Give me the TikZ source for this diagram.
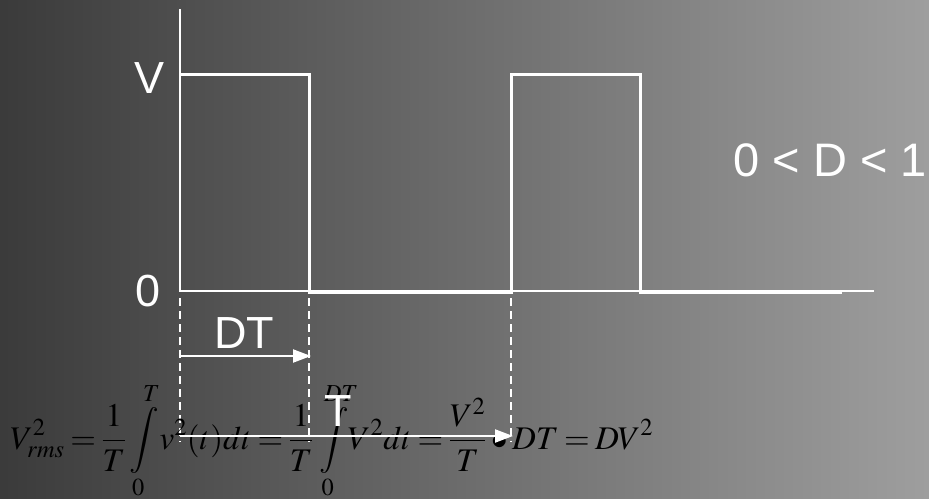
\documentclass[tikz,border=0pt]{standalone}
\usepackage{amsmath}
\usepackage{mathptmx}
\usepackage{fontspec}
\setmainfont{Liberation Sans}
\usetikzlibrary{arrows.meta}

\begin{document}
\begin{tikzpicture}[x=1pt, y=-1pt,
        axis_line/.style={draw=white, line width=1.3pt},
        wave_line/.style={draw=white, line width=3pt, line join=miter},
        guide_line/.style={draw=white, line width=1.3pt, dash pattern=on 8pt off 5pt},
        span_arrow/.style={draw=white, line width=2.2pt, -{Triangle[length=18pt, width=13pt]}},
        value_label/.style={text=white, font=\fontsize{45}{48}\selectfont, inner sep=0pt},
        formula_box/.style={text=black, font=\fontsize{33}{36}\selectfont, inner sep=0pt, anchor=base west}
    ]
        % Background
        \shade[left color=black!77, right color=black!38] (0,0) rectangle (929,498);
        \useasboundingbox (0,0) rectangle (929,498);

        % Axes
        \coordinate (O) at (180,291);
        \coordinate (yend) at (180,9);
        \coordinate (xend) at (874,291);
        \draw[axis_line] (yend) -- (O) -- (xend);

        % Square wave
        \coordinate (p1) at (180,74);
        \coordinate (p2) at (309,74);
        \coordinate (p3) at (309,292);
        \coordinate (p4) at (511,292);
        \coordinate (p5) at (511,74);
        \coordinate (p6) at (640,74);
        \coordinate (p7) at (640,292);
        \coordinate (p8) at (842,292);
        \draw[wave_line] (p1) -- (p2) -- (p3) -- (p4) -- (p5) -- (p6) -- (p7) -- (p8);

        % Labels
        \node[value_label] (lblV) at (150,78) {V};
        \node[value_label] (lblzero) at (148,291) {0};
        \node[value_label, font=\fontsize{47}{50}\selectfont] (lblD) at (830,160) {0 < D < 1};

        % Guides and spans
        \coordinate (g0) at (180,298);
        \coordinate (g1) at (309,298);
        \coordinate (g2) at (511,298);
        \coordinate (g0b) at (180,442);
        \coordinate (g1b) at (309,442);
        \coordinate (g2b) at (511,442);
        \draw[guide_line] (g0) -- (g0b);
        \draw[guide_line] (g1) -- (g1b);
        \draw[guide_line] (g2) -- (g2b);

        \coordinate (dt0) at (180,356);
        \coordinate (dt1) at (311,356);
        \coordinate (t0) at (180,436);
        \coordinate (t1) at (513,436);
        \draw[span_arrow] (dt0) -- (dt1);
        \node[value_label] (lblDT) at (244,333) {DT};

        % Formula
        \node[formula_box] (rms) at (10,449)
            {$\thickmuskip=3mu\displaystyle V_{rms}^2=\frac{1}{T}\int\limits_0^T\!v^2(t)dt=\frac{1}{T}\int\limits_0^{DT}\!\!V^2dt=\frac{V^2}{T}\bullet DT=DV^2$};
        \draw[span_arrow] (t0) -- (t1);
        \node[value_label] (lblT) at (338,411) {T};
    \end{tikzpicture}
\end{document}
